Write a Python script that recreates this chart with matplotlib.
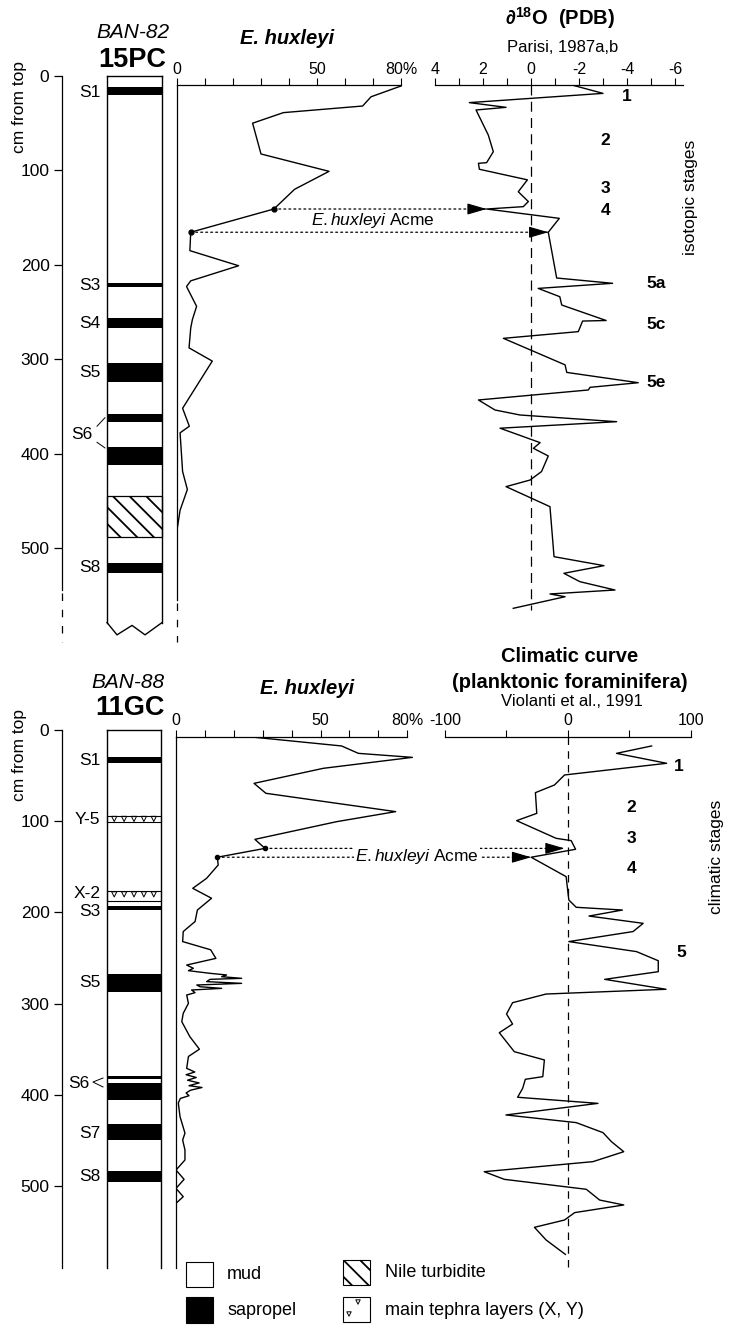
import numpy as np
import matplotlib.pyplot as plt
from matplotlib.patches import Rectangle, ConnectionPatch

plt.rcParams['font.family'] = ['Liberation Sans', 'DejaVu Sans']
plt.rcParams['mathtext.fontset'] = 'custom'
plt.rcParams['mathtext.rm'] = 'Liberation Sans'
plt.rcParams['mathtext.it'] = 'Liberation Sans:italic'
plt.rcParams['mathtext.bf'] = 'Liberation Sans:bold'
plt.rcParams['hatch.linewidth'] = 1.3
plt.rcParams['axes.linewidth'] = 0.9

# ---------------- data: BAN-82 15PC ----------------
sap1_top = [11.7, 219, 256, 304, 358, 393, 516]
sap1_bot = [20.1, 224, 267, 324, 367, 412, 526]
nile1_top, nile1_bot = 445, 488
lab1 = ['S1', 'S3', 'S4', 'S5', 'S8']
lab1_depth = [17, 222, 262, 314, 521]
s6_1_depth = 380

hux1_depth = [10.6, 22, 31.8, 38.8, 50, 82.6, 101, 120, 140.9, 165.5, 185, 201, 217, 223,
              244, 258, 267, 288, 302, 352, 371, 378, 419, 438, 460, 481]
hux1_pct = [80, 69.3, 66.3, 38, 27, 30, 54.3, 42, 34.6, 4.9, 4.6, 22, 4.9, 3.4,
            7, 5.5, 4.9, 4.3, 12.6, 2, 4.4, 1.1, 2, 3.7, 1.1, 0]

iso_depth = [9.5, 18.4, 28.2, 33.2, 36, 62.5, 80.2, 91.8, 92.5, 98.8, 110, 122.6, 133, 138.4,
             140.9, 150.8, 165.5, 214, 219.6, 225, 233.8, 242.6, 259.0, 259.6, 270.8, 277.9,
             306, 314, 324.9, 329.8, 332.6, 343.2, 353.8, 359.1, 366.2, 373.1, 388.4, 394.4,
             402.5, 419, 428, 435, 456.2, 509.2, 518.7, 526.8, 535.7, 544.5, 548.7, 551.6, 563.9]
iso_val = [-1.7, -3.0, 2.57, 1.04, 2.29, 1.78, 1.57, 1.85, 2.19, 2.15, 0.15, 0.53, 0.11, 0.32,
           1.85, -1.18, -0.72, -1.07, -3.4, -0.3, -1.2, -1.28, -3.13, -2.15, -1.97, 1.15,
           -1.42, -1.49, -4.47, -2.46, -2.39, 2.19, 1.5, 0.46, -3.57, 1.29, -0.38, -0.1,
           -0.72, -0.44, 0.04, 1.04, -0.79, -0.96, -3.04, -1.37, -2.04, -3.5, -0.79, -1.42, 0.74]
iso_stage = ['1', '2', '3', '4', '5a', '5c', '5e']
iso_stage_depth = [22, 68, 119, 143, 220, 263, 325]
iso_stage_x = [-4.0, -3.1, -3.1, -3.1, -5.2, -5.2, -5.2]

acme1_depth = [140.9, 165.5]
acme1_hux = [34.6, 4.9]
acme1_iso = [1.85, -0.72]

# ---------------- data: BAN-88 11GC ----------------
sap2_top = [30, 193, 267, 379, 387.4, 432, 484]
sap2_bot = [35.8, 197, 287, 382.7, 405.7, 449.5, 496]
teph2_top = [94.3, 177]
teph2_bot = [100.5, 187]
lab2 = ['S1', 'Y-5', 'X-2', 'S3', 'S5', 'S7', 'S8']
lab2_depth = [33, 98.5, 179, 199.5, 277, 442, 490]
s6_2_depth = 388

hux2_depth = [7.3, 17.5, 25.6, 30, 42, 58.5, 69.4, 89.5, 100.5, 119.9, 129.8, 139.5, 148,
              162.6, 173.6, 184.5, 197.4, 210, 221, 232, 241, 250.4, 257.7, 261.3, 263.9,
              266.8, 268.6, 270.5, 272.3, 273.4, 275.9, 277.8, 279.6, 281.5, 283.3, 285.1,
              288, 290.6, 299.7, 310.7, 319.8, 336.3, 350, 358, 371, 375, 378, 381, 384,
              387, 390, 392, 395, 398, 401, 404, 409, 424, 442, 449.6, 460.5, 471.5, 482.5,
              492.7, 502.6, 511.7, 519]
hux2_pct = [25, 57.3, 63.1, 81.8, 51, 27, 31.1, 76, 55.6, 27.3, 30.8, 14.3, 14.6,
            10.6, 5.8, 12.3, 7.4, 6.6, 2.5, 2.3, 12, 13.8, 3.7, 6, 4.3,
            11.8, 17.5, 15.8, 22.7, 11.8, 10.6, 22.7, 7.2, 8.3, 15.8, 5.4,
            6.6, 3.7, 4.3, 2.5, 2, 4.8, 8.1, 4.3, 3.7, 6.5, 3.5, 7, 4,
            8, 4.5, 9, 5, 3.5, 4.5, 1.5, 0.8, 1.4, 3.1, 2.3, 3.1, 3.1, 0,
            2.8, 0, 2.5, 0]

clim_depth = [17.5, 25.6, 36.5, 49.3, 60.3, 68.7, 91.4, 99.4, 118.8, 121.3, 130.8, 139.5,
              160.8, 186.4, 194.4, 197.4, 204, 212, 221, 232, 243, 253, 265, 273.4, 284.3,
              289.5, 299, 311.4, 322.4, 331.9, 352.7, 361.8, 380.1, 383, 392.9, 402.7, 409.4,
              422.1, 430.5, 441.5, 451.4, 462.4, 473.3, 484.3, 492.7, 503.6, 515.4, 520.8,
              529.2, 537.3, 545.3, 559.2, 575]
clim_val = [68.2, 39.6, 80.4, -2.7, -10.9, -26.4, -25.3, -41.7, -9.5, 2.7, 6.3, -29.9,
            -1.4, 0.8, 6.8, 44.4, 17.2, 61.3, 53.1, 0.8, 55.9, 73.6, 73.6, 30, 79.9,
            -17.7, -45, -49.9, -45, -55.8, -43.6, -19.1, -20.4, -34.6, -36.8, -40.9, 24.5,
            -50.4, 6.8, 28.6, 35.5, 45.5, 20.4, -68.1, -51.7, 15, 25.9, 45.5,
            5.5, -2.7, -27.2, -17.7, -2]
clim_stage = ['1', '2', '3', '4', '5']
clim_stage_depth = [39.5, 84.6, 119.3, 152.2, 244]
clim_stage_x = [90, 51.6, 51.6, 51.6, 92.5]

acme2_depth = [129.8, 139.5]
acme2_hux = [30.8, 14.3]
acme2_clim = [-2.7, -29.9]

# ---------------- layout helpers ----------------
W, H = 733, 1331
fig = plt.figure(figsize=(W / 100, H / 100), dpi=100)


def depth_ax(x0, x1, y0, y1, d0, s):
    ax = fig.add_axes([x0 / W, 1 - y1 / H, (x1 - x0) / W, (y1 - y0) / H])
    ax.set_ylim((y1 - d0) / s, (y0 - d0) / s)
    ax.set_facecolor('none')
    return ax


def ftxt(x, y, s, **kw):
    kw.setdefault('ha', 'center')
    kw.setdefault('va', 'center')
    return fig.text(x / W, 1 - y / H, s, **kw)


def vline(ax, x, d0, d1, **kw):
    ax.plot([x, x], [d0, d1], transform=ax.get_yaxis_transform(), color='k',
            clip_on=False, **kw)


def core(ax, sap_top, sap_bot, cl, cr, dmax, solid_end):
    ax.set_xlim(0, 1)
    ax.set_xticks([])
    for s in ['top', 'right', 'bottom', 'left']:
        ax.spines[s].set_visible(False)
    vline(ax, 0, 0, solid_end, lw=0.9)
    ax.set_yticks(range(0, 501, 100))
    ax.tick_params(axis='y', direction='out', length=6, width=0.9, pad=3, labelsize=12.5)
    for t, b in zip(sap_top, sap_bot):
        ax.axhspan(t, b, xmin=cl, xmax=cr, color='k', lw=0)
    vline(ax, cl, 0, dmax, lw=1.0)
    vline(ax, cr, 0, dmax, lw=1.0)
    ax.plot([cl, cr], [0, 0], transform=ax.get_yaxis_transform(), color='k', lw=1.0,
            clip_on=False)


def hux_axis(ax, top, solid_end):
    ax.set_xlim(0, 84)
    ax.xaxis.tick_top()
    ax.set_xticks(np.arange(0, 81, 10),
                  labels=['0', '', '', '', '', '50', '', '', '80%'])
    ax.tick_params(axis='x', direction='out', length=5, width=0.8, pad=1, labelsize=11.5)
    ax.set_yticks([])
    for s in ['right', 'bottom', 'left']:
        ax.spines[s].set_visible(False)
    ax.spines['top'].set_bounds(0, 80)
    vline(ax, 0, top, solid_end, lw=0.9)


# ================= top panel (BAN-82 15PC) =================
d0, sc = 76, 0.944
ax_c1 = depth_ax(62, 165, 76, 642, d0, sc)
cl1, cr1 = 0.437, 0.971
core(ax_c1, sap1_top, sap1_bot, cl1, cr1, 579, 545)
vline(ax_c1, 0, 548, 600, lw=0.9, ls=(0, (6, 7)))
ax_c1.axhspan(nile1_top, nile1_bot, xmin=cl1, xmax=cr1, facecolor='white',
              edgecolor='k', hatch='\\\\', lw=0.9)
zig_x = [cl1, 0.534, 0.68, 0.806, cr1]
zig_d = [579, 592, 582, 592, 579]
ax_c1.plot(zig_x, zig_d, transform=ax_c1.get_yaxis_transform(), color='k', lw=1.0,
           clip_on=False)
for lab, d in zip(lab1, lab1_depth):
    ax_c1.text(0.37, d, lab, transform=ax_c1.get_yaxis_transform(), ha='right',
               va='center', fontsize=12.5)
ax_c1.text(0.30, s6_1_depth, 'S6', transform=ax_c1.get_yaxis_transform(), ha='right',
           va='center', fontsize=12.5)
ax_c1.plot([0.34, 0.417], [371, 362], transform=ax_c1.get_yaxis_transform(), color='k',
           lw=0.7, clip_on=False)
ax_c1.plot([0.34, 0.417], [388, 394], transform=ax_c1.get_yaxis_transform(), color='k',
           lw=0.7, clip_on=False)

ax_h1 = depth_ax(177, 177 + 2.8 * 84, 85, 642, d0, sc)
hux_axis(ax_h1, 9.5, 555)
vline(ax_h1, 0, 558, 600, lw=0.9, ls=(0, (6, 7)))
ax_h1.plot(hux1_pct, hux1_depth, color='k', lw=1.0)
ax_h1.plot(acme1_hux, acme1_depth, 'o', color='k', ms=3.5)

ax_i = depth_ax(435, 683.4, 85, 642, d0, sc)
ax_i.set_xlim(4, -6.35)
ax_i.xaxis.tick_top()
ax_i.set_xticks(np.arange(4, -7, -1),
                labels=['4', '', '2', '', '0', '', '-2', '', '-4', '', '-6'])
ax_i.tick_params(axis='x', direction='out', length=5, width=0.8, pad=1, labelsize=11.5)
ax_i.set_yticks([])
for s in ['right', 'bottom', 'left']:
    ax_i.spines[s].set_visible(False)
ax_i.vlines(0, 9.5, 566, colors='k', linestyles=(0, (8, 5)), lw=0.9)
ax_i.plot(iso_val, iso_depth, color='k', lw=1.0)
for lab, d, x in zip(iso_stage, iso_stage_depth, iso_stage_x):
    ax_i.text(x, d, lab, ha='center', va='center', fontsize=12.5, fontweight='bold')

for d, hv, iv in zip(acme1_depth, acme1_hux, acme1_iso):
    con = ConnectionPatch(xyA=(hv, d), coordsA=ax_h1.transData, xyB=(iv, d),
                          coordsB=ax_i.transData, color='k', lw=0.9, ls=(0, (1.5, 2.5)))
    fig.add_artist(con)
    ax_i.annotate('', xy=(iv, d), xytext=(-13, 0), textcoords='offset points',
                  arrowprops=dict(arrowstyle='-|>,head_length=1.2,head_width=0.35',
                                  mutation_scale=10, color='k', lw=0.8,
                                  shrinkA=0, shrinkB=0))
ftxt(373, 221, r'$\mathit{E.huxleyi}$ Acme', fontsize=12.5,
     bbox=dict(facecolor='white', edgecolor='none', pad=0.5))

ftxt(133, 33, 'BAN-82', fontsize=15, fontstyle='italic')
ftxt(132, 60, '15PC', fontsize=19.5, fontweight='bold')
ftxt(287, 38, 'E. huxleyi', fontsize=14.5, fontweight='bold', fontstyle='italic')
ftxt(560, 18, r'∂$^{\mathbf{18}}$O  (PDB)', fontsize=14.5, fontweight='bold')
ftxt(563, 48, 'Parisi, 1987a,b', fontsize=12)
ftxt(20, 107, 'cm from top', fontsize=12.5, rotation=90)
ftxt(690, 197, 'isotopic stages', fontsize=12.5, rotation=90)

# ================= bottom panel (BAN-88 11GC) =================
d0, sc = 730, 0.912
ax_c2 = depth_ax(62, 165, 730, 1268, d0, sc)
cl2, cr2 = 0.437, 0.961
core(ax_c2, sap2_top, sap2_bot, cl2, cr2, 590, 590)
for t, b in zip(teph2_top, teph2_bot):
    ax_c2.axhspan(t, b, xmin=cl2, xmax=cr2, facecolor='white', edgecolor='k', lw=0.8)
    ax_c2.scatter(np.linspace(cl2 + 0.07, cr2 - 0.07, 5), [t + 3.2] * 5, marker='v',
                  s=14, facecolors='none', edgecolors='k', lw=0.7,
                  transform=ax_c2.get_yaxis_transform())
for lab, d in zip(lab2, lab2_depth):
    ax_c2.text(0.37, d, lab, transform=ax_c2.get_yaxis_transform(), ha='right',
               va='center', fontsize=12.5)
ax_c2.text(0.27, s6_2_depth, 'S6', transform=ax_c2.get_yaxis_transform(), ha='right',
           va='center', fontsize=12.5)
ax_c2.plot([0.398, 0.30, 0.398], [381.6, 386, 391.4], transform=ax_c2.get_yaxis_transform(),
           color='k', lw=0.7, clip_on=False)

ax_h2 = depth_ax(176, 176 + 2.89 * 84, 736.7, 1268, d0, sc)
hux_axis(ax_h2, 7.3, 590)
ax_h2.plot(hux2_pct, hux2_depth, color='k', lw=1.0)
ax_h2.plot(acme2_hux, acme2_depth, 'o', color='k', ms=3)

ax_k = depth_ax(445, 690.7, 736.7, 1268, d0, sc)
ax_k.set_xlim(-100, 100)
ax_k.xaxis.tick_top()
ax_k.set_xticks([-100, -50, 0, 50, 100], labels=['-100', '', '0', '', '100'])
ax_k.tick_params(axis='x', direction='out', length=5, width=0.8, pad=1, labelsize=11.5)
ax_k.set_yticks([])
for s in ['right', 'bottom', 'left']:
    ax_k.spines[s].set_visible(False)
ax_k.vlines(0, 7.3, 590, colors='k', linestyles=(0, (6, 5)), lw=0.9)
ax_k.plot(clim_val, clim_depth, color='k', lw=1.0)
for lab, d, x in zip(clim_stage, clim_stage_depth, clim_stage_x):
    ax_k.text(x, d, lab, ha='center', va='center', fontsize=12.5, fontweight='bold')

for d, hv, kv in zip(acme2_depth, acme2_hux, acme2_clim):
    con = ConnectionPatch(xyA=(hv, d), coordsA=ax_h2.transData, xyB=(kv, d),
                          coordsB=ax_k.transData, color='k', lw=0.9, ls=(0, (1.5, 2.5)))
    fig.add_artist(con)
    ax_k.annotate('', xy=(kv, d), xytext=(-13, 0), textcoords='offset points',
                  arrowprops=dict(arrowstyle='-|>,head_length=1.2,head_width=0.35',
                                  mutation_scale=10, color='k', lw=0.8,
                                  shrinkA=0, shrinkB=0))
ftxt(417, 857, r'$\mathit{E.huxleyi}$ Acme', fontsize=12.5,
     bbox=dict(facecolor='white', edgecolor='none', pad=0.5))

ftxt(128, 682, 'BAN-88', fontsize=15, fontstyle='italic')
ftxt(130, 708, '11GC', fontsize=19.5, fontweight='bold')
ftxt(307, 688, 'E. huxleyi', fontsize=14.5, fontweight='bold', fontstyle='italic')
ftxt(570, 657, 'Climatic curve', fontsize=14.5, fontweight='bold')
ftxt(570, 682, '(planktonic foraminifera)', fontsize=14.5, fontweight='bold')
ftxt(572, 702, 'Violanti et al., 1991', fontsize=12)
ftxt(20, 755, 'cm from top', fontsize=12.5, rotation=90)
ftxt(717, 857, 'climatic stages', fontsize=12.5, rotation=90)

# ================= legend =================
ax_l = fig.add_axes([150 / W, 0, (W - 150) / W, 91 / H])
ax_l.set_xlim(150, W)
ax_l.set_ylim(1331, 1240)
ax_l.axis('off')
ax_l.add_patch(Rectangle((186, 1262), 27, 25, facecolor='white', edgecolor='k', lw=0.8))
ax_l.add_patch(Rectangle((186, 1297), 27, 26, facecolor='k', edgecolor='k', lw=0.8))
ax_l.add_patch(Rectangle((343, 1260), 27, 25, facecolor='white', edgecolor='k', lw=0.8,
                         hatch='\\\\'))
ax_l.add_patch(Rectangle((343, 1297), 27, 25, facecolor='white', edgecolor='k', lw=0.8))
ax_l.scatter([349, 358], [1314, 1302], marker='v', s=10, facecolors='none',
             edgecolors='k', lw=0.7)
ax_l.text(227, 1275, 'mud', fontsize=13, va='center')
ax_l.text(227, 1311, 'sapropel', fontsize=13, va='center')
ax_l.text(385, 1273, 'Nile turbidite', fontsize=13, va='center')
ax_l.text(385, 1311, 'main tephra layers (X, Y)', fontsize=13, va='center')

fig.savefig('out.png', dpi=100, facecolor='white')
